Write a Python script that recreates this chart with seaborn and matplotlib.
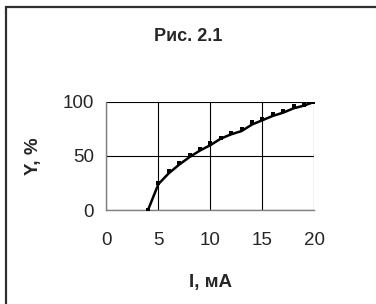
import numpy as np
import pandas as pd
import seaborn as sns
import matplotlib.pyplot as plt
from matplotlib.patches import Rectangle

# measured points
current = [4, 5, 6, 7, 8, 9, 10, 11, 12, 13, 14, 15, 16, 17, 18, 19, 20]
y_meas = [0, 24.7, 36, 43.4, 51, 56, 62, 66.5, 71, 75, 81, 84.4, 88.4, 91.6, 96, 97.5, 100]
# smoothed curve drawn through them
y_line = [0, 24, 34, 42, 49, 55, 60, 66, 70, 73, 79, 83, 87, 90, 94, 96.5, 100]

df = pd.DataFrame({'I': current, 'meas': y_meas, 'line': y_line})

sns.set_style('white')
plt.rcParams['font.family'] = ['Liberation Sans', 'DejaVu Sans']

fig = plt.figure(figsize=(3.76, 3.04), dpi=100)
ax = fig.add_axes([0.283, 0.309, 0.553, 0.356])

sns.lineplot(data=df, x='I', y='line', ax=ax, color='black', linewidth=1.8)
sns.scatterplot(data=df, x='I', y='meas', ax=ax, color='black', marker='s', s=11,
                linewidth=0, zorder=3)

ax.set_xlim(0, 20)
ax.set_ylim(0, 100)
ax.set_xticks([0, 5, 10, 15, 20])
ax.set_yticks([0, 50, 100])
ax.grid(True, color='black', linewidth=0.8)
ax.set_axisbelow(True)
for s in ['top', 'right']:
    ax.spines[s].set_visible(False)
for s in ['left', 'bottom']:
    ax.spines[s].set_color('#808080')
    ax.spines[s].set_linewidth(1)
ax.tick_params(axis='both', direction='out', length=4, width=1, color='#808080',
               labelsize=13.5, pad=5)
ax.tick_params(axis='x', pad=12)

ax.set_xlabel('I, мА', fontsize=13.5, fontweight='bold', labelpad=18)
ax.set_ylabel('Y, %', fontsize=13.5, fontweight='bold', labelpad=15)
fig.text(0.5, 0.88, 'Рис. 2.1', ha='center', va='center', fontsize=13, fontweight='bold')

# frame around the picture (cut off at the right and bottom)
fig.add_artist(Rectangle((6 / 376, -0.1), 1.2, 1.1 - 7 / 304, transform=fig.transFigure,
                         fill=False, edgecolor='#303030', linewidth=1.6))

fig.savefig('out.png', dpi=100)
